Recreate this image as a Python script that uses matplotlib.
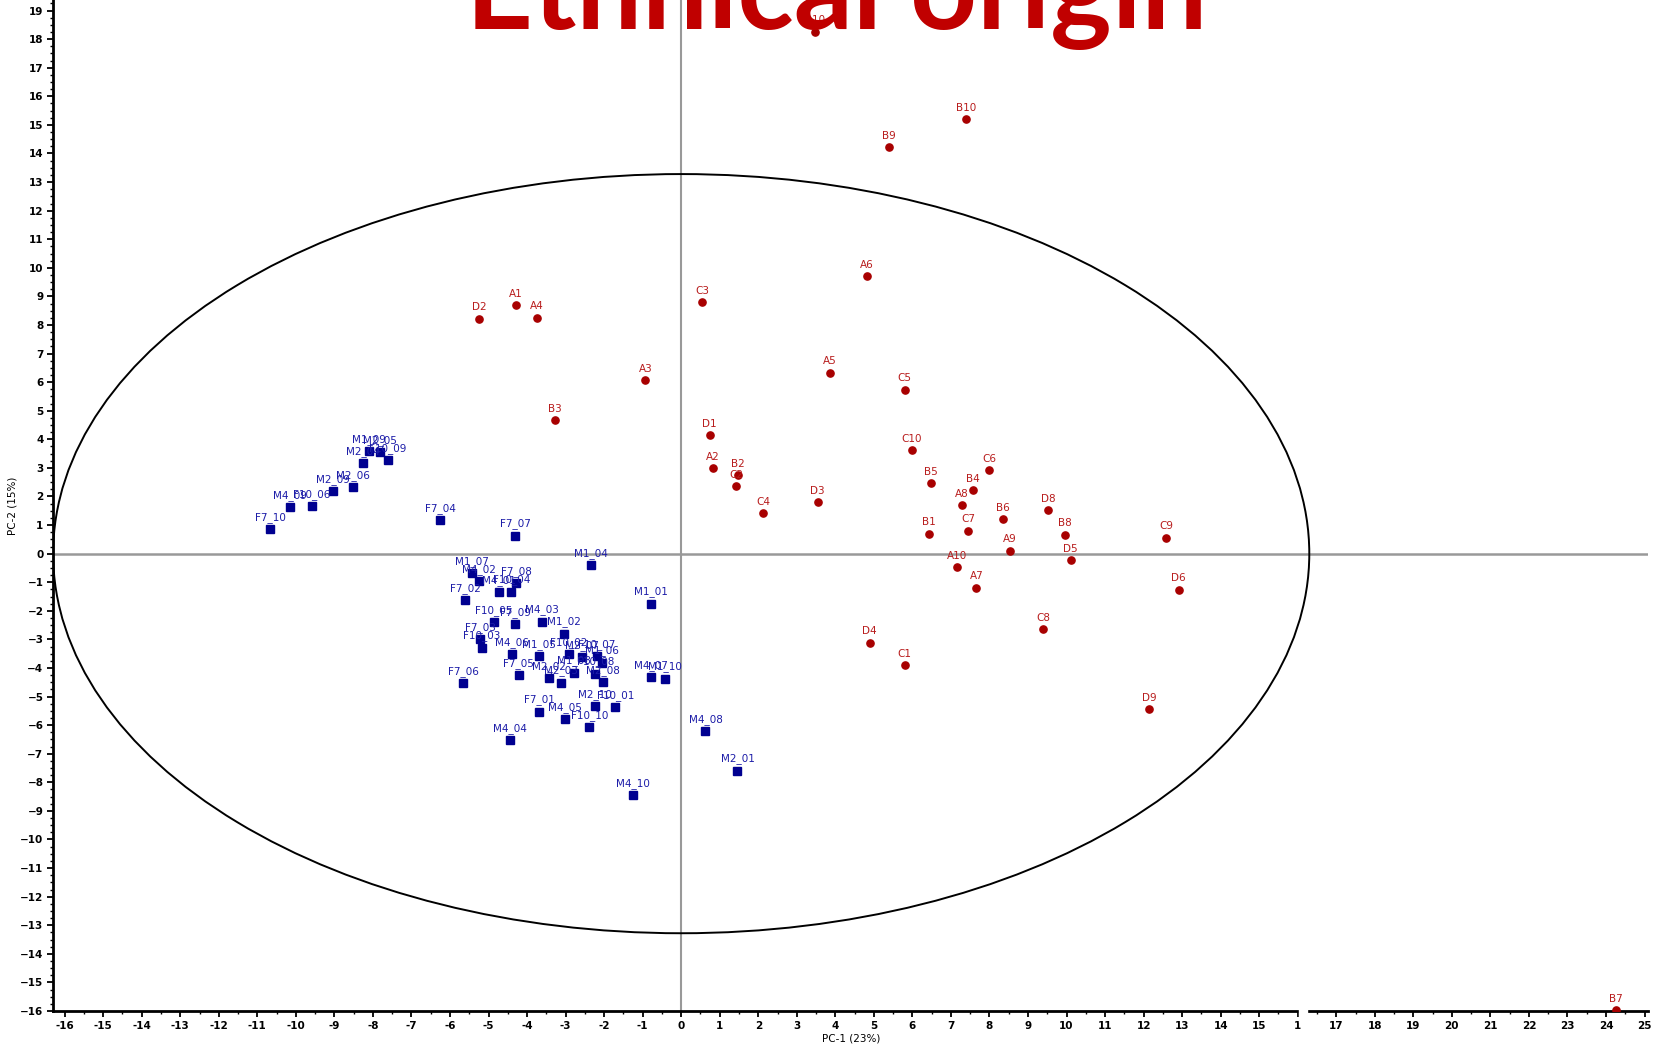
import matplotlib.pyplot as plt
import numpy as np
from matplotlib.patches import Ellipse, Rectangle
from matplotlib.ticker import MultipleLocator

# PCA scores - ethnic groups (red circles)
red_labels = ["D2", "A1", "A4", "A3", "B3", "C3", "D1", "A2", "B2", "C2",
              "C4", "D3", "A5", "A6", "B9", "B10", "D10", "C5", "C10", "B5",
              "B4", "C6", "A8", "C7", "B6", "B1", "A9", "A10", "A7", "D8",
              "B8", "D5", "C9", "D6", "C8", "D4", "C1", "D9", "B7"]
red_x = [-5.25, -4.29, -3.74, -0.93, -3.27, 0.55, 0.74, 0.82, 1.48, 1.43,
         2.12, 3.54, 3.85, 4.81, 5.38, 7.39, 3.46, 5.80, 5.99, 6.48,
         7.58, 7.99, 7.28, 7.45, 8.35, 6.43, 8.54, 7.17, 7.66, 9.53,
         9.95, 10.11, 12.58, 12.91, 9.40, 4.89, 5.80, 12.14, 24.26]
red_y = [8.22, 8.70, 8.26, 6.07, 4.67, 8.81, 4.15, 3.00, 2.74, 2.37,
         1.41, 1.81, 6.33, 9.70, 14.22, 15.19, 18.26, 5.74, 3.63, 2.48,
         2.22, 2.93, 1.70, 0.81, 1.22, 0.70, 0.11, -0.48, -1.19, 1.52,
         0.67, -0.22, 0.56, -1.26, -2.63, -3.11, -3.89, -5.44, -15.96]

# PCA scores - subjects (blue squares)
blue_labels = ["F7_10", "M4_09", "F10_06", "M2_09", "M2_06", "M2_04", "M1_09", "M2_05",
               "F10_09", "F7_04", "F7_07", "M1_07", "M4_02", "F7_08", "M4_01", "F10_04",
               "F7_02", "M1_04", "F10_05", "F7_09", "M4_03", "F7_03", "F10_03", "M1_02",
               "M4_06", "M1_05", "F7_05", "F7_06", "M2_02", "M2_03", "F10_02", "M1_08",
               "M2_07", "F10_07", "M1_06", "F10_08", "M2_08", "M2_10", "F10_01", "F7_01",
               "M4_05", "F10_10", "M1_01", "M4_07", "M1_10", "M4_08", "M2_01", "M4_10",
               "M4_04"]
blue_x = [-10.66, -10.15, -9.58, -9.03, -8.51, -8.25, -8.10, -7.81,
          -7.61, -6.25, -4.31, -5.43, -5.24, -4.28, -4.74, -4.41,
          -5.60, -2.34, -4.87, -4.31, -3.61, -5.22, -5.17, -3.05,
          -4.39, -3.68, -4.22, -5.65, -3.44, -3.11, -2.91, -2.79,
          -2.58, -2.19, -2.06, -2.23, -2.02, -2.25, -1.71, -3.68,
          -3.01, -2.38, -0.79, -0.79, -0.43, 0.63, 1.46, -1.26,
          -4.45]
blue_y = [0.86, 1.63, 1.67, 2.19, 2.34, 3.17, 3.59, 3.56,
          3.27, 1.17, 0.63, -0.69, -0.96, -1.02, -1.34, -1.33,
          -1.63, -0.41, -2.39, -2.47, -2.38, -2.99, -3.29, -2.80,
          -3.52, -3.58, -4.24, -4.53, -4.36, -4.51, -3.52, -4.16,
          -3.62, -3.58, -3.81, -4.20, -4.49, -5.33, -5.36, -5.53,
          -5.79, -6.06, -1.75, -4.32, -4.37, -6.22, -7.59, -8.44,
          -6.52]

# Hotelling ellipse semi-axes
ell_a = 16.3
ell_b = 13.28

x_ticks = list(range(-16, 26))
x_tick_labels = [str(t) if t != 16 else "1" for t in x_ticks]
y_ticks = list(range(-16, 20))

red = "#a80000"
red_txt = "#b81c1c"
blue = "#000090"
blue_txt = "#1c1ca8"

fig = plt.figure(figsize=(16.6, 10.47), dpi=100)
ax = fig.add_axes([0.032, 0.0344, 0.961, 0.9656])

ax.add_patch(Ellipse((0, 0), 2 * ell_a, 2 * ell_b, fill=False, ec="black", lw=1.4, zorder=2))
ax.axhline(0, color="#999999", lw=1.8, zorder=1)
ax.axvline(0, color="#999999", lw=1.5, zorder=1)

ax.plot(blue_x, blue_y, "s", color=blue, ms=5.8, zorder=3)
ax.plot(red_x, red_y, "o", color=red, ms=5.2, zorder=3)

for lab, x, y in zip(blue_labels, blue_x, blue_y):
    ax.annotate(lab, (x, y), xytext=(0, 4.5), textcoords="offset points",
                ha="center", va="bottom", fontsize=7.5, color=blue_txt, zorder=4)
for lab, x, y in zip(red_labels, red_x, red_y):
    ax.annotate(lab, (x, y), xytext=(0, 4.5), textcoords="offset points",
                ha="center", va="bottom", fontsize=7.5, color=red_txt, zorder=4)

ax.set_xlim(-16.3, 25.1)
ax.set_ylim(-16, 19.37)
ax.set_xticks(x_ticks)
ax.set_xticklabels(x_tick_labels)
ax.set_yticks(y_ticks)
ax.xaxis.set_minor_locator(MultipleLocator(0.5))
ax.yaxis.set_minor_locator(MultipleLocator(0.25))
ax.tick_params(which="major", length=4, width=1.3, labelsize=7.5, pad=3)
ax.tick_params(which="minor", length=2.5, width=1.0)
for t in ax.get_xticklabels() + ax.get_yticklabels():
    t.set_fontweight("bold")

for s in ["top", "right"]:
    ax.spines[s].set_visible(False)
for s in ["left", "bottom"]:
    ax.spines[s].set_linewidth(2.0)

# small white gap on the x axis near 16 (as in the source image)
ax.add_patch(Rectangle((16.02, -16.4), 0.21, 0.55, color="white", clip_on=False, zorder=5))

ax.set_xlabel("PC-1 (23%)", fontsize=7.5, labelpad=2)
ax.set_ylabel("PC-2 (15%)", fontsize=7.5)
ax.yaxis.set_label_coords(-0.0225, 0.5)

fig.text(0.504, 0.972, "Ethnical origin", ha="center", va="baseline",
         fontsize=84, fontweight="bold", color="#c00000", family="Lato", zorder=10)

fig.savefig("out.png", dpi=100)
